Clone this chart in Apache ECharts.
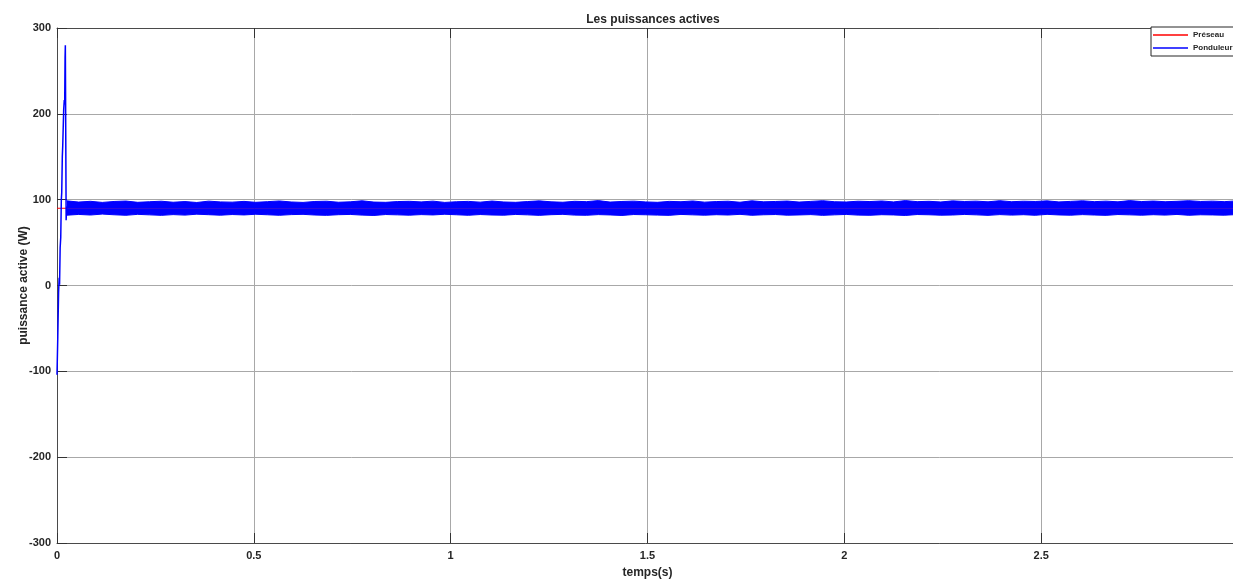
<!DOCTYPE html>
<html>
<head>
<meta charset="utf-8">
<title>Les puissances actives</title>
<script src="https://cdn.jsdelivr.net/npm/echarts@6/dist/echarts.min.js"></script>
<style>
  html, body { margin: 0; padding: 0; background: #fff; }
  #chart { width: 1233px; height: 580px; }
</style>
</head>
<body>
<div id="chart"></div>
<script>
// reseau (constant) power
const preseau = [[0, 90], [3, 90]]

// onduleur start-up transient [t, W]
const ponduleurStart = [
  [0, -104], [0.002, -60], [0.004, -8], [0.0055, 9], [0.0065, 1], [0.008, 44],
  [0.0095, 56], [0.011, 100], [0.012, 108], [0.0135, 150], [0.0145, 162],
  [0.017, 205], [0.0185, 216], [0.0195, 211], [0.0205, 266], [0.0212, 280],
  [0.0222, 180], [0.0232, 76], [0.0245, 92]
]

// steady-state ripple band, sampled every 0.03 s from 0.025 s
const bandStart = 0.025
const bandStep = 0.03
const bandMid = 90
const bandHigh = [
  98.6, 97.2, 98.1, 96.8, 97.9, 98.4, 96.9, 97.6, 98.2, 97.0,
  97.8, 96.7, 98.3, 97.4, 97.1, 98.0, 96.9, 97.7, 98.5, 97.3,
  96.8, 97.9, 98.2, 97.0, 97.5, 98.7, 97.2, 96.9, 97.8, 98.1,
  97.4, 98.3, 96.8, 97.6, 98.0, 97.1, 98.4, 97.3, 96.9, 97.8,
  98.6, 97.5, 97.0, 98.1, 97.7, 98.9, 97.2, 97.9, 98.3, 97.4,
  96.9, 98.0, 97.6, 98.5, 97.1, 97.8, 98.2, 97.0, 98.7, 97.5,
  97.9, 98.4, 97.2, 98.0, 98.8, 97.6, 97.3, 98.2, 97.8, 98.5,
  97.4, 98.9, 97.7, 98.1, 97.3, 98.6, 97.9, 98.3, 97.5, 98.8,
  97.6, 98.2, 97.9, 98.6, 97.4, 98.0, 98.7, 97.7, 98.3, 97.5,
  98.9, 97.8, 98.4, 97.6, 98.1, 98.8, 97.9, 98.3, 97.7, 98.5
]
const bandLow = [
  81.9, 82.8, 82.1, 83.2, 82.4, 81.8, 82.9, 82.3, 81.7, 82.6,
  82.0, 83.1, 82.5, 81.9, 82.7, 82.2, 83.0, 82.4, 81.8, 82.6,
  82.9, 82.1, 81.7, 82.5, 82.8, 82.0, 81.6, 82.7, 82.3, 81.9,
  82.6, 82.2, 83.0, 82.4, 81.8, 82.7, 82.1, 81.9, 82.8, 82.3,
  81.7, 82.5, 82.9, 82.0, 81.8, 82.6, 82.2, 81.6, 82.7, 82.4,
  82.0, 81.7, 82.8, 82.3, 81.9, 82.5, 82.1, 82.9, 81.8, 82.4,
  82.7, 81.9, 82.2, 82.6, 81.7, 82.3, 82.8, 82.0, 81.8, 82.5,
  82.2, 81.6, 82.7, 82.4, 81.9, 82.1, 82.8, 82.3, 81.7, 82.6,
  82.0, 82.5, 81.8, 82.9, 82.2, 81.9, 82.6, 82.1, 81.7, 82.7,
  82.3, 81.9, 82.5, 82.0, 82.8, 81.8, 82.4, 82.2, 81.9, 82.6
]

const chart = echarts.init(document.getElementById('chart'))

const bandHighData = bandHigh.map((v, i) => [bandStart + i * bandStep, v])
const bandLowData = bandLow.map((v, i) => [bandStart + i * bandStep, v])

const boldFont = {
  fontFamily: 'Liberation Sans, Arial, sans-serif',
  fontWeight: 'bold',
  color: '#262626'
}

function axisFrame (extra) {
  return Object.assign({
    axisLine: { show: true, onZero: false, lineStyle: { color: '#4a4a4a', width: 1 } },
    axisTick: { show: true, inside: true, length: 10, lineStyle: { color: '#333' } }
  }, extra)
}

const option = {
  backgroundColor: '#fff',
  animation: false,
  title: {
    text: 'Les puissances actives',
    left: 648,
    top: 9,
    textAlign: 'center',
    textStyle: Object.assign({ fontSize: 12 }, boldFont)
  },
  legend: {
    data: ['Préseau', 'Ponduleur'],
    orient: 'vertical',
    left: 1151,
    top: 27,
    padding: [3, 6, 3, 2],
    itemGap: 3,
    icon: 'rect',
    itemWidth: 35,
    itemHeight: 1.5,
    backgroundColor: '#fff',
    borderColor: '#262626',
    borderWidth: 1,
    borderRadius: 0,
    textStyle: Object.assign({ fontSize: 8, lineHeight: 10 }, boldFont)
  },
  grid: {
    left: 57,
    top: 28,
    bottom: 37,
    width: 1181,
    outerBoundsMode: 'none',
    containLabel: false
  },
  xAxis: [axisFrame({
    type: 'value',
    min: 0,
    max: 3,
    interval: 0.5,
    name: 'temps(s)',
    nameLocation: 'middle',
    nameGap: 24,
    nameTextStyle: Object.assign({ fontSize: 12 }, boldFont),
    axisLabel: Object.assign({ fontSize: 11, margin: 7 }, boldFont),
    splitLine: { show: true, lineStyle: { color: '#a8a8a8', width: 1 } }
  }), axisFrame({
    type: 'value',
    position: 'top',
    min: 0,
    max: 3,
    interval: 0.5,
    axisLabel: { show: false },
    splitLine: { show: false }
  })],
  yAxis: axisFrame({
    type: 'value',
    min: -300,
    max: 300,
    interval: 100,
    name: 'puissance active (W)',
    nameLocation: 'middle',
    nameGap: 27,
    nameMoveOverlap: false,
    nameTextStyle: Object.assign({ fontSize: 12 }, boldFont),
    axisLabel: Object.assign({ fontSize: 11, margin: 6 }, boldFont),
    splitLine: { show: true, lineStyle: { color: '#a8a8a8', width: 1 } }
  }),
  series: [
    {
      name: 'Préseau',
      type: 'line',
      symbol: 'none',
      data: preseau,
      lineStyle: { color: '#ff0000', width: 1 },
      itemStyle: { color: '#ff0000' },
      z: 2
    },
    {
      name: 'bandHigh',
      type: 'line',
      symbol: 'none',
      data: bandHighData,
      lineStyle: { color: '#0000ff', width: 1 },
      areaStyle: { color: '#0000ff', opacity: 1, origin: bandMid },
      z: 3
    },
    {
      name: 'bandLow',
      type: 'line',
      symbol: 'none',
      data: bandLowData,
      lineStyle: { color: '#0000ff', width: 1 },
      areaStyle: { color: '#0000ff', opacity: 1, origin: bandMid },
      z: 3
    },
    {
      name: 'Ponduleur',
      type: 'line',
      symbol: 'none',
      data: ponduleurStart,
      lineStyle: { color: '#0000ff', width: 1.5 },
      itemStyle: { color: '#0000ff' },
      z: 4
    }
  ]
}

chart.setOption(option)
</script>
</body>
</html>
